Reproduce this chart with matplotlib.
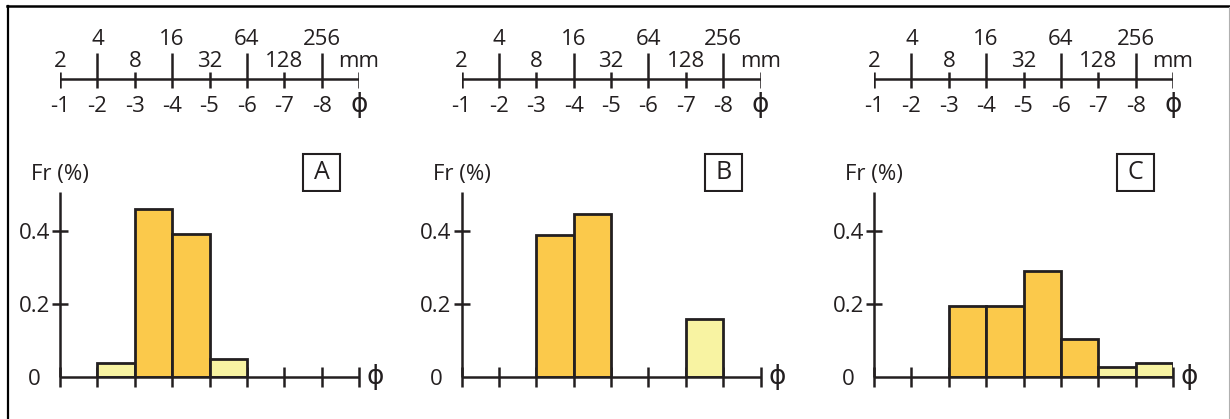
import matplotlib.pyplot as plt
from matplotlib.lines import Line2D
from matplotlib.patches import Rectangle

plt.rcParams['font.family'] = ['Open Sans', 'DejaVu Sans']

# grain-size classes (phi) and the matching sieve sizes in mm
phi_edges = [-1, -2, -3, -4, -5, -6, -7, -8, -9]
phi_labels = ['-1', '-2', '-3', '-4', '-5', '-6', '-7', '-8', 'ϕ']
mm_labels = ['2', '4', '8', '16', '32', '64', '128', '256', 'mm']

# frequency per phi class (-1..-2, -2..-3, ... , -8..-9)
freq_a = [0, 0.039, 0.46, 0.392, 0.049, 0, 0, 0]
freq_b = [0, 0, 0.39, 0.448, 0, 0, 0.159, 0]
freq_c = [0, 0, 0.195, 0.195, 0.29, 0.103, 0.027, 0.0375]
# 1 = main population, 0 = secondary population
main_a = [0, 0, 1, 1, 0, 0, 0, 0]
main_b = [0, 0, 1, 1, 0, 0, 0, 0]
main_c = [0, 0, 1, 1, 1, 1, 0, 0]

panels = ['A', 'B', 'C']
freqs = [freq_a, freq_b, freq_c]
mains = [main_a, main_b, main_c]

W, H = 1230, 419
lefts = [60, 461.5, 874]
pw = 299
ink = '#231f20'
orange = '#fbc94b'
pale = '#f8f3a2'
FS = 16

fig = plt.figure(figsize=(W / 100, H / 100), dpi=100)

canvas = fig.add_axes([0, 0, 1, 1], zorder=-1)
canvas.set_xlim(0, W)
canvas.set_ylim(H, 0)
canvas.axis('off')
# frame
canvas.add_line(Line2D([7.5, 7.5], [6, H], color='black', lw=1.6))
canvas.add_line(Line2D([7, W], [6.5, 6.5], color='black', lw=1.8))
canvas.add_line(Line2D([W - 1.5, W - 1.5], [7, H], color='#b0b0b0', lw=0.8))


def phi_px(left, phi):
    return left + (-1 - phi) * pw / 8


for name, freq, main, left in zip(panels, freqs, mains, lefts):
    # phi / mm scale bar, y in pixels
    sc = fig.add_axes([left / W, (H - 120) / H, pw / W, 100 / H])
    sc.set_xlim(-1, -9)
    sc.set_ylim(120, 20)
    sc.axis('off')
    sc.plot([-1, -9], [79, 79], color=ink, lw=1.8, solid_capstyle='butt')
    for i, p in enumerate(phi_edges):
        top = 53 if p in (-2, -4, -6, -8) else 72
        sc.plot([p, p], [top, 88], color=ink, lw=1.8, solid_capstyle='butt')
        size = 19 if phi_labels[i] == 'ϕ' else FS
        sc.text(p, 112, phi_labels[i], ha='center', va='baseline', fontsize=size, color=ink)
        row = 45 if i % 2 == 1 and i < 8 else 67
        sc.text(p, row, mm_labels[i], ha='center', va='baseline', fontsize=FS, color=ink)

    # histogram
    ax = fig.add_axes([left / W, (H - 377) / H, pw / W, 185 / H])
    ax.set_xlim(-1, -9)
    ax.set_ylim(0, 0.507)
    ax.set_axisbelow(True)
    for s in ('top', 'right'):
        ax.spines[s].set_visible(False)
    for s in ('left', 'bottom'):
        ax.spines[s].set_linewidth(1.8)
        ax.spines[s].set_color(ink)
        ax.spines[s].set_capstyle('butt')
    centers = [(a + b) / 2 for a, b in zip(phi_edges[:-1], phi_edges[1:])]
    xs = [c for c, f in zip(centers, freq) if f > 0]
    hs = [f for f in freq if f > 0]
    cs = [orange if m else pale for m, f in zip(main, freq) if f > 0]
    ax.bar(xs, hs, width=1.0, color=cs, edgecolor=ink, linewidth=2.0,
           joinstyle='miter', zorder=1)

    ax.set_xticks(phi_edges)
    ax.set_xticklabels([])
    ax.tick_params(axis='x', direction='inout', length=13.7, width=1.8, color=ink)
    ax.set_yticks([0, 0.2, 0.4])
    ax.set_yticklabels(['0', '0.2', '0.4'], fontsize=FS, color=ink)
    ax.tick_params(axis='y', direction='inout', length=12.2, width=1.8, color=ink, pad=12.3)
    for lab in ax.get_yticklabels():
        lab.set_horizontalalignment('center')
    ax.yaxis.get_major_ticks()[0].tick1line.set_visible(False)

    ax.annotate('ϕ', xy=(-9, 0), xytext=(12, 0), textcoords='offset points',
                ha='center', va='center', fontsize=19, color=ink)

    # axis title and panel letter
    canvas.text(left, 174, 'Fr (%)', ha='center', va='center', fontsize=FS, color=ink)
    bx = phi_px(left, -8)
    canvas.add_patch(Rectangle((bx - 18.5, 153.5), 37, 37, fc='white', ec=ink, lw=1.5))
    canvas.text(bx, 172.5, name, ha='center', va='center', fontsize=18, color=ink)

fig.savefig('out.png', dpi=100)
